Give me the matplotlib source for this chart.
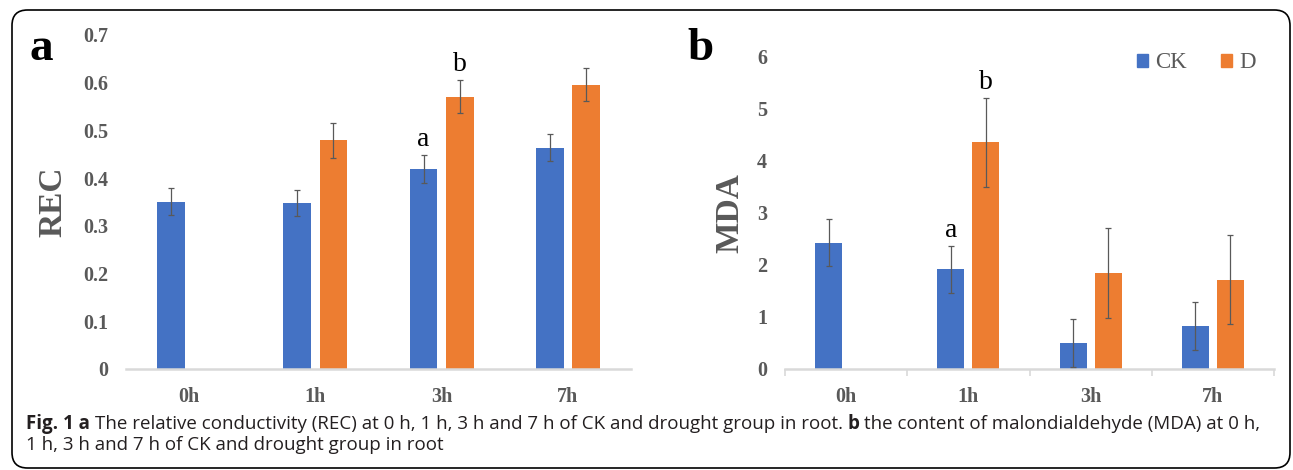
import numpy as np
import matplotlib.pyplot as plt
from matplotlib.patches import FancyBboxPatch
from matplotlib.ticker import FixedLocator

# ============================================================
# Data
# ============================================================

categories = ["0h", "1h", "3h", "7h"]

rec_ck = [0.351, 0.348, 0.419, 0.464]
rec_ck_err = [0.028, 0.028, 0.029, 0.029]
rec_d = [np.nan, 0.479, 0.571, 0.596]
rec_d_err = [np.nan, 0.036, 0.035, 0.035]

mda_ck = [2.43, 1.92, 0.50, 0.83]
mda_ck_err = [0.45, 0.45, 0.46, 0.46]
mda_d = [np.nan, 4.36, 1.85, 1.72]
mda_d_err = [np.nan, 0.86, 0.86, 0.86]

rec_ticks = [0, 0.1, 0.2, 0.3, 0.4, 0.5, 0.6, 0.7]
rec_tick_labels = ["0", "0.1", "0.2", "0.3", "0.4", "0.5", "0.6", "0.7"]
mda_ticks = [0, 1, 2, 3, 4, 5, 6]

# (category index, series, letter)
rec_letters = [(2, "CK", "a"), (2, "D", "b")]
mda_letters = [(1, "CK", "a"), (1, "D", "b")]

caption_line1 = ("The relative conductivity (REC) at 0 h, 1 h, 3 h and 7 h of CK and "
                 "drought group in root.")
caption_line1b = "the content of malondialdehyde (MDA) at 0 h,"
caption_line2 = "1 h, 3 h and 7 h of CK and drought group in root"

# ============================================================
# Style
# ============================================================

W, H = 1293, 470
BLUE = "#4472C4"
ORANGE = "#ED7D31"
GRAY = "#595959"
AXIS_GRAY = "#D9D9D9"
SERIF = "Liberation Serif"

BAR_W = 0.22
OFFSET = 0.143


def px_rect(left, top, right, bottom):
    return [left / W, 1 - bottom / H, (right - left) / W, (bottom - top) / H]


def draw_panel(ax, ck, ck_err, d, d_err, ymax, ticks, tick_labels, ylabel,
               letters, tick_marks):
    x = np.arange(len(categories))
    ax.bar(x - OFFSET, ck, BAR_W, color=BLUE, zorder=2)
    ax.bar(x + OFFSET, d, BAR_W, color=ORANGE, zorder=2)

    err_kw = dict(fmt="none", ecolor=GRAY, elinewidth=0.9, capsize=2.3,
                  capthick=0.9, zorder=3)
    ax.errorbar(x - OFFSET, ck, yerr=ck_err, **err_kw)
    ax.errorbar(x + OFFSET, d, yerr=d_err, **err_kw)

    vals = {"CK": (ck, ck_err, -OFFSET), "D": (d, d_err, OFFSET)}
    for i, series, letter in letters:
        v, e, off = vals[series]
        ax.annotate(letter, (i + off, v[i] + e[i]), xytext=(0, 2),
                    textcoords="offset points", ha="center", va="bottom",
                    fontsize=20, family=SERIF, color="black")

    ax.set_xlim(-0.5, len(categories) - 0.5)
    ax.set_ylim(0, ymax)
    ax.set_yticks(ticks)
    ax.set_yticklabels(tick_labels)
    ax.set_xticks(x)
    ax.set_xticklabels(categories)

    for lab in ax.get_xticklabels() + ax.get_yticklabels():
        lab.set_family(SERIF)
        lab.set_fontweight("bold")
        lab.set_fontsize(14.5)
        lab.set_color(GRAY)

    ax.tick_params(axis="both", which="major", length=0)
    ax.tick_params(axis="y", pad=13)
    ax.tick_params(axis="x", pad=13)
    if tick_marks:
        ax.xaxis.set_minor_locator(FixedLocator(np.arange(len(categories) + 1) - 0.5))
        ax.tick_params(axis="x", which="minor", length=5, width=1.2,
                       color=AXIS_GRAY, direction="out")

    for side in ["top", "right", "left"]:
        ax.spines[side].set_visible(False)
    ax.spines["bottom"].set_color(AXIS_GRAY)
    ax.spines["bottom"].set_linewidth(1.8)

    ax.set_ylabel(ylabel, family=SERIF, fontweight="bold", fontsize=24,
                  color=GRAY)


def main() -> None:
    fig = plt.figure(figsize=(W / 100, H / 100), dpi=100)

    # rounded frame around the whole figure
    frame = FancyBboxPatch((12 / W, 1 - 468 / H), (1290 - 12) / W, (468 - 10) / H,
                           boxstyle="round,pad=0,rounding_size=0.012",
                           transform=fig.transFigure, fill=False,
                           edgecolor="black", linewidth=1.2,
                           mutation_aspect=W / H)
    fig.patches.append(frame)

    ax_a = fig.add_axes(px_rect(126, 35, 631, 369))
    draw_panel(ax_a, rec_ck, rec_ck_err, rec_d, rec_d_err, 0.7,
               rec_ticks, rec_tick_labels, "REC", rec_letters, False)
    ax_a.yaxis.set_label_coords(-0.113, 0.5)

    ax_b = fig.add_axes(px_rect(785, 57, 1274, 369))
    draw_panel(ax_b, mda_ck, mda_ck_err, mda_d, mda_d_err, 6,
               mda_ticks, [str(t) for t in mda_ticks], "MDA", mda_letters, True)
    ax_b.yaxis.set_label_coords(-0.082, 0.5)

    # legend
    handles = [plt.Rectangle((0, 0), 1, 1, color=BLUE),
               plt.Rectangle((0, 0), 1, 1, color=ORANGE)]
    fig.legend(handles, ["CK", "D"], loc="center left",
               bbox_to_anchor=(1116 / W, 1 - 63 / H), ncol=2, frameon=False,
               prop={"family": SERIF, "size": 16.5}, labelcolor=GRAY,
               handlelength=0.5, handleheight=0.5, handletextpad=0.3,
               columnspacing=1.5)

    # panel letters
    fig.text(29 / W, 1 - 60 / H, "a", family=SERIF, fontweight="bold",
             fontsize=34, ha="left", va="baseline")
    fig.text(687 / W, 1 - 60 / H, "b", family=SERIF, fontweight="bold",
             fontsize=34, ha="left", va="baseline")

    # caption
    cap_kw = dict(family="Open Sans", fontsize=13.5, color="#231F20",
                  va="baseline")
    y1 = 1 - 429 / H
    t = fig.text(26 / W, y1, "Fig. 1 a ", fontweight="bold", ha="left", **cap_kw)
    fig.canvas.draw()
    r = fig.canvas.get_renderer()
    x = 26 + t.get_window_extent(r).width
    t = fig.text(x / W, y1, caption_line1 + " ", ha="left", **cap_kw)
    x += t.get_window_extent(r).width
    t = fig.text(x / W, y1, "b ", fontweight="bold", ha="left", **cap_kw)
    x += t.get_window_extent(r).width
    fig.text(x / W, y1, caption_line1b, ha="left", **cap_kw)
    fig.text(26 / W, 1 - 450 / H, caption_line2, ha="left", **cap_kw)

    fig.savefig("out.png", dpi=100)
    plt.close(fig)


if __name__ == "__main__":
    main()
